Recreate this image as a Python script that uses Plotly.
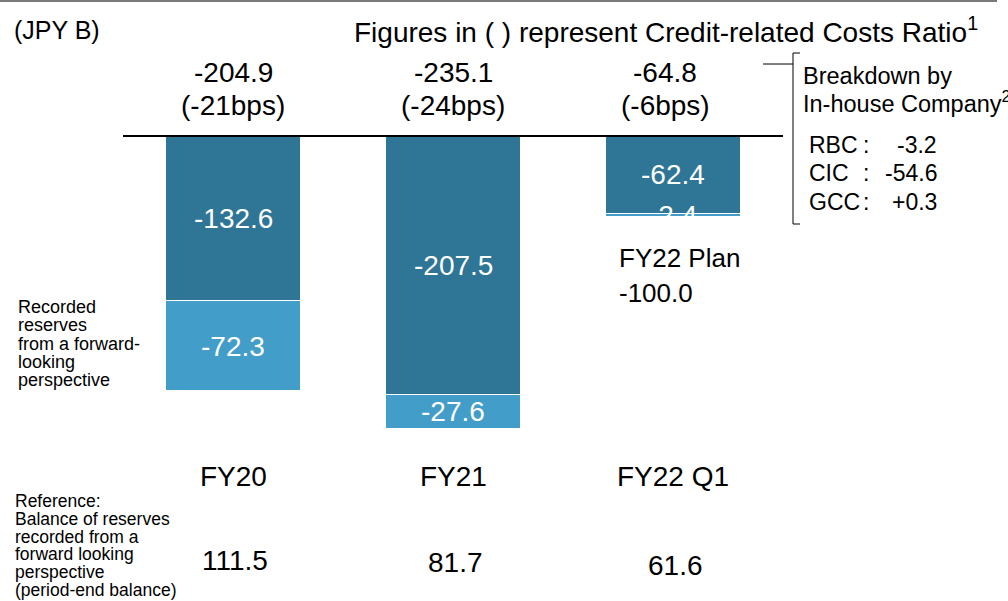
import plotly.graph_objects as go

# ---------------- data ----------------
categories = ["FY20", "FY21", "FY22 Q1"]
base_costs = [-132.6, -207.5, -62.4]          # dark segment
forward_reserves = [-72.3, -27.6, -2.4]       # light segment (forward-looking)
totals = ["-204.9", "-235.1", "-64.8"]
bps = ["(-21bps)", "(-24bps)", "(-6bps)"]
reserve_balance = ["111.5", "81.7", "61.6"]
breakdown_labels = ["RBC", "CIC", "GCC"]
breakdown_values = ["-3.2", "-54.6", "+0.3"]
plan_label = "FY22 Plan"
plan_value = "-100.0"
left_note_lines = ["Recorded", "reserves", "from a forward-", "looking", "perspective"]
ref_note_lines = ["Reference:", "Balance of reserves", "recorded from a",
                  "forward looking", "perspective", "(period-end balance)"]

# ---------------- style ----------------
W, H = 1008, 601
DARK = "#2E7596"
LIGHT = "#439DC9"
FONT = "Liberation Sans, Arial, sans-serif"
BIG = 28


def px(x):
    return x / W


def py(y):
    return 1 - y / H


def txt(text, x, y, size, xanchor="center", xref="paper", yref="paper", color="black", xshift=0):
    return dict(x=x, y=y, xref=xref, yref=yref, text=text, showarrow=False,
                xanchor=xanchor, yanchor="middle", xshift=xshift,
                font=dict(size=size, color=color, family=FONT))


fig = go.Figure()
fig.add_trace(go.Bar(x=categories, y=base_costs,
                     marker=dict(color=DARK, line=dict(color="white", width=1)),
                     width=0.614, hoverinfo="skip", showlegend=False))
fig.add_trace(go.Bar(x=categories, y=forward_reserves,
                     marker=dict(color=LIGHT, line=dict(color="white", width=1)),
                     width=0.614, hoverinfo="skip", showlegend=False))

ann = []
# inside labels
for i, c in enumerate(categories):
    d = base_costs[i]
    l = forward_reserves[i]
    ann.append(txt(f"{d:.1f}", c, d / 2, BIG, xref="x", yref="y", color="white"))
    ann.append(txt(f"{l:.1f}", c, d + l / 2, BIG, xref="x", yref="y", color="white"))

total_shift = [0, 0, -8]
for i, c in enumerate(categories):
    ann.append(txt(totals[i], c, py(72), BIG, xref="x", xshift=total_shift[i]))
    ann.append(txt(bps[i], c, py(105), BIG, xref="x", xshift=total_shift[i]))
    ann.append(txt(c, c, py(476), BIG, xref="x"))

bal_y = [560, 562, 565]
for i, c in enumerate(categories):
    ann.append(txt(reserve_balance[i], c, py(bal_y[i]), BIG, xref="x", xshift=2))

# header texts
ann.append(txt("(JPY B)", px(12), py(30), 25, xanchor="left"))
ann.append(txt("Figures in ( ) represent Credit-related Costs Ratio<sup>1</sup>", px(980), py(30), 28,
               xanchor="right"))

# breakdown
ann.append(txt("Breakdown by", px(801), py(76), 23.5, xanchor="left"))
ann.append(txt("In-house Company<sup>2</sup>", px(801), py(102), 23.5, xanchor="left"))
for i, (lab, val) in enumerate(zip(breakdown_labels, breakdown_values)):
    yy = py(145 + i * 28.5)
    ann.append(txt(lab, px(807), yy, 23, xanchor="left"))
    ann.append(txt(":", px(866), yy, 23))
    ann.append(txt(val, px(939), yy, 23, xanchor="right"))

# FY22 plan
ann.append(txt(plan_label, px(617), py(258), 26, xanchor="left"))
ann.append(txt(plan_value, px(617), py(293), 26, xanchor="left"))

# left notes
for i, t in enumerate(left_note_lines):
    ann.append(txt(t, px(16), py(307 + i * 18.3), 18, xanchor="left"))
for i, t in enumerate(ref_note_lines):
    ann.append(txt(t, px(13), py(501 + i * 17.8), 17.5, xanchor="left"))

shapes = [
    # top grey rule
    dict(type="line", xref="paper", yref="paper", x0=0, x1=px(997), y0=py(1), y1=py(1),
         line=dict(color="#7a7a7a", width=2)),
    # zero line
    dict(type="line", xref="paper", yref="y", x0=px(123), x1=px(783), y0=0, y1=0,
         line=dict(color="black", width=2)),
    # bracket
    dict(type="line", xref="paper", yref="paper", x0=px(763), x1=px(793), y0=py(64), y1=py(64),
         line=dict(color="black", width=1)),
    dict(type="line", xref="paper", yref="paper", x0=px(793), x1=px(793), y0=py(53), y1=py(224),
         line=dict(color="black", width=1)),
    dict(type="line", xref="paper", yref="paper", x0=px(793), x1=px(800), y0=py(53), y1=py(53),
         line=dict(color="black", width=1)),
    dict(type="line", xref="paper", yref="paper", x0=px(793), x1=px(800), y0=py(224), y1=py(224),
         line=dict(color="black", width=1)),
]

fig.update_layout(
    width=W, height=H,
    margin=dict(l=0, r=0, t=0, b=0),
    paper_bgcolor="white", plot_bgcolor="white",
    barmode="relative",
    bargap=0,
    xaxis=dict(range=[-1.061, 3.521], visible=False, showgrid=False, zeroline=False),
    yaxis=dict(range=[-373.2, 109.1], visible=False, showgrid=False, zeroline=False),
    annotations=ann,
    shapes=shapes,
    showlegend=False,
)

fig.write_html("out.html",
               config={"displayModeBar": False},
               post_script="document.body.style.margin='0px';document.body.style.overflow='hidden';")
